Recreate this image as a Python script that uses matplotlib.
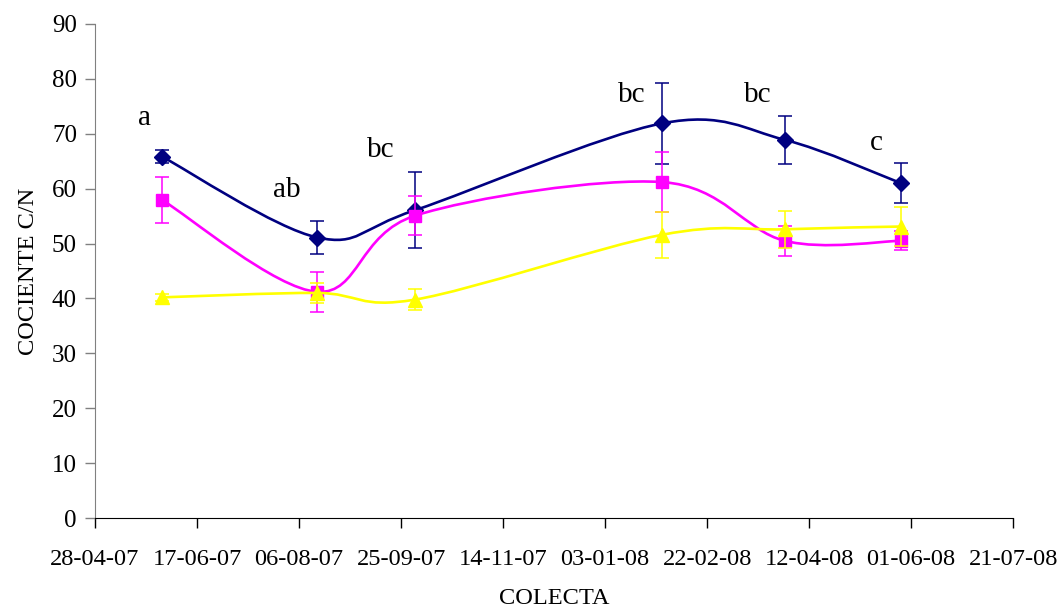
import numpy as np
import matplotlib
matplotlib.use('Agg')
from matplotlib import pyplot as plt
from matplotlib.path import Path
from matplotlib.patches import PathPatch
import matplotlib.dates as mdates
from datetime import datetime

plt.rcParams['font.family'] = ['Liberation Serif', 'DejaVu Serif']

fechas = ['2007-05-31', '2007-08-15', '2007-10-02', '2008-01-31', '2008-03-31', '2008-05-27']

navy_val = [65.8, 51.1, 56.1, 71.9, 68.9, 61.0]
navy_err = [1.2, 3.0, 7.0, 7.4, 4.4, 3.7]

mag_val = [57.9, 41.2, 55.1, 61.2, 50.5, 50.5]
mag_err = [4.2, 3.6, 3.5, 5.4, 2.7, 1.7]

yel_val = [40.2, 41.0, 39.8, 51.6, 52.6, 53.1]
yel_err = [0.6, 1.9, 1.9, 4.2, 3.4, 3.5]

letras = ['a', 'ab', 'bc', 'bc', 'bc', 'c']
letras_x = ['2007-05-22', '2007-07-31', '2007-09-15', '2008-01-16', '2008-03-18', '2008-05-15']
letras_y = [72.9, 59.8, 67.1, 77.1, 77.1, 68.4]

ticks = np.arange(np.datetime64('2007-04-28'), np.datetime64('2008-07-22'), np.timedelta64(50, 'D'))

x = mdates.date2num([datetime.fromisoformat(f) for f in fechas])


def smooth_path(xs, ys):
    # bezier en el estilo de la linea suavizada de Excel
    p = np.column_stack([xs, ys])
    n = len(p)
    verts = [p[0]]
    codes = [Path.MOVETO]
    for i in range(n - 1):
        p0 = p[i - 1] if i > 0 else p[i]
        p3 = p[i + 2] if i + 2 < n else p[i + 1]
        c1 = p[i] + (p[i + 1] - p0) / 6
        c2 = p[i + 1] - (p3 - p[i]) / 6
        verts += [c1, c2, p[i + 1]]
        codes += [Path.CURVE4] * 3
    return Path(verts, codes)


fig = plt.figure(figsize=(10.62, 6.10), dpi=100)
ax = fig.add_axes([0.0895, 0.1508, 0.8645, 0.8099])

series = [
    (navy_val, navy_err, '#000080', 'D', 8.5),
    (mag_val, mag_err, '#FF00FF', 's', 9),
    (yel_val, yel_err, '#FFFF00', '^', 10),
]

for z, (vals, errs, col, mk, ms) in enumerate(series):
    ax.add_patch(PathPatch(smooth_path(x, vals), fill=False, edgecolor=col,
                           lw=1.9, zorder=2 + z * 3))
    ax.errorbar(x, vals, yerr=errs, fmt='none', ecolor=col, elinewidth=1.1,
                capsize=5, capthick=1.1, zorder=3 + z * 3)
    ax.plot(x, vals, ls='none', marker=mk, color=col, markersize=ms,
            zorder=4 + z * 3)

for t, lx, ly in zip(letras, letras_x, letras_y):
    ax.text(mdates.date2num(datetime.fromisoformat(lx)), ly, t, fontsize=21,
            ha='center', va='center')

ax.set_xlim(mdates.date2num(ticks[0].astype(datetime)), mdates.date2num(ticks[-1].astype(datetime)))
ax.set_ylim(0, 90)
ax.set_yticks(np.arange(0, 91, 10))
ax.set_xticks([mdates.date2num(t.astype(datetime)) for t in ticks])
ax.xaxis.set_major_formatter(mdates.DateFormatter('%d-%m-%y'))

ax.spines['top'].set_visible(False)
ax.spines['right'].set_visible(False)
ax.spines['left'].set_color('#808080')
ax.spines['bottom'].set_color('black')
ax.tick_params(axis='y', colors='#808080', labelcolor='black', length=7, width=1, labelsize=18, pad=6)
ax.tick_params(axis='x', length=7, width=1, labelsize=17.6, pad=15)

ax.set_xlabel('COLECTA', fontsize=17.6, labelpad=13)
ax.set_ylabel('COCIENTE C/N', fontsize=17.6, labelpad=9)

fig.savefig('out.png', dpi=100)
